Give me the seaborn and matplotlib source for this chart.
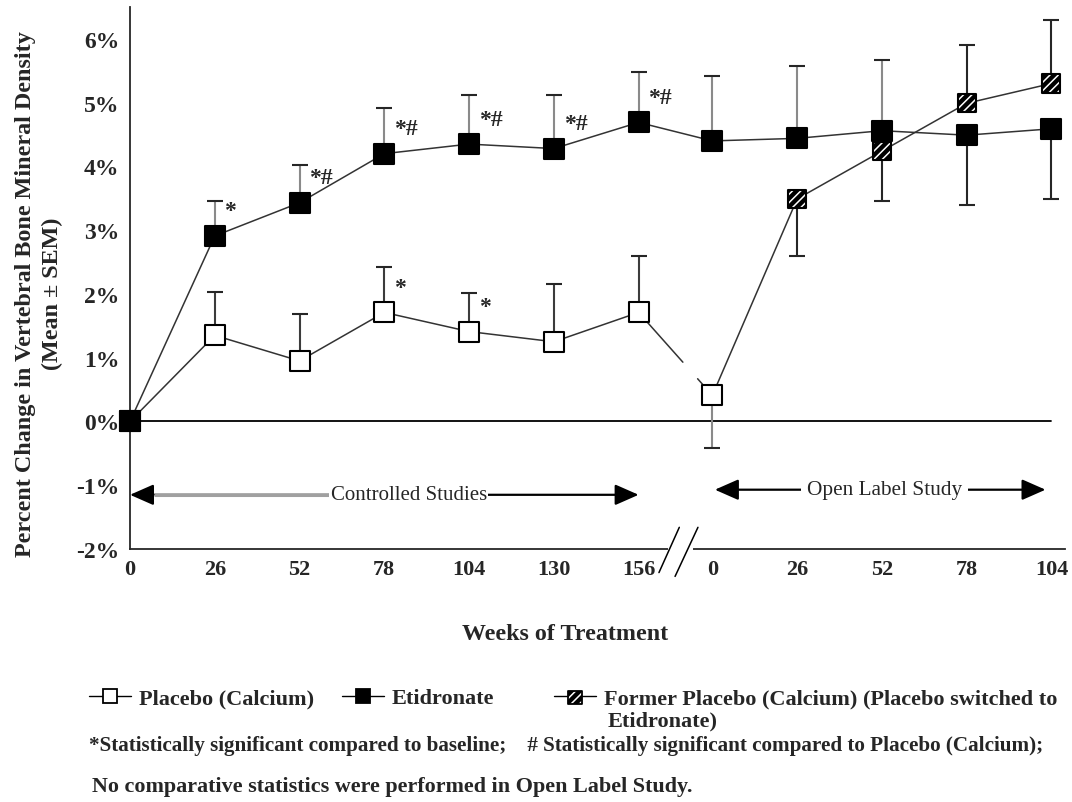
import numpy as np
import pandas as pd
import seaborn as sns
import matplotlib.pyplot as plt
from matplotlib.lines import Line2D
from matplotlib.legend_handler import HandlerTuple

# x axis: weeks in the controlled studies, then weeks in the open label study
ctrl_weeks = [0, 26, 52, 78, 104, 130, 156]
open_weeks = [0, 26, 52, 78, 104]

# controlled studies (percent change, mean and SEM)
placebo_ctrl = [0.0, 1.35, 0.95, 1.71, 1.41, 1.25, 1.71]
placebo_ctrl_up = [0.0, 0.68, 0.73, 0.71, 0.60, 0.91, 0.88]
etid_ctrl = [0.0, 2.91, 3.43, 4.20, 4.35, 4.28, 4.69]
etid_ctrl_up = [0.0, 0.55, 0.59, 0.71, 0.77, 0.84, 0.79]

# open label study
placebo_open = [0.41]
placebo_open_lo = [0.82]
etid_open = [4.40, 4.44, 4.56, 4.49, 4.59]
etid_open_up = [1.02, 1.14, 1.11, 0.0, 0.0]
etid_open_lo = [0.0, 0.0, 1.10, 1.10, 1.10]
former_open = [0.41, 3.49, 4.24, 4.99, 5.30]   # starts from placebo at switch
former_open_up = [0.0, 0.0, 0.0, 0.92, 0.99]
former_open_lo = [0.0, 0.89, 0.0, 0.0, 0.0]

# significance marks
etid_sig = ['', '*', '*#', '*#', '*#', '*#', '*#']
placebo_sig = ['', '', '', '*', '*', '', '']

yticks = [-2, -1, 0, 1, 2, 3, 4, 5, 6]
ytick_labels = ['-2%', '-1%', '0%', '1%', '2%', '3%', '4%', '5%', '6%']

sns.set_style("white")
plt.rcParams['font.family'] = ['Liberation Serif', 'DejaVu Serif']
plt.rcParams['font.weight'] = 'bold'
plt.rcParams['hatch.color'] = 'white'
plt.rcParams['hatch.linewidth'] = 1.1

W, H = 1072, 803
OPEN_START = 6.87   # axis position of open label week 0
XMAX = 11.03

ctrl_pos = np.array(ctrl_weeks) / 26
open_pos = OPEN_START + np.array(open_weeks) / 26

fig = plt.figure(figsize=(W / 100, H / 100), dpi=100)
ax = fig.add_axes([130 / W, 1 - 550 / H, (1065 - 130) / W, (550 - 8) / H])
ax.set_xlim(0, XMAX)
ax.set_ylim(-2, 6.5)

line_kw = dict(color='#333333', linewidth=1.1, ax=ax, legend=False)

# connecting lines
etid_df = pd.DataFrame({'x': np.concatenate([ctrl_pos, open_pos]),
                        'y': etid_ctrl + etid_open})
sns.lineplot(data=etid_df, x='x', y='y', sort=False, **line_kw)
sns.lineplot(x=ctrl_pos, y=placebo_ctrl, sort=False, **line_kw)
sns.lineplot(x=open_pos, y=former_open, sort=False, **line_kw)

# placebo line into the open label study, broken at the axis break
p0 = np.array([ctrl_pos[-1], placebo_ctrl[-1]])
p1 = np.array([open_pos[0], placebo_open[0]])
for a, b in [(0.0, 0.60), (0.80, 1.0)]:
    seg = np.array([p0 + a * (p1 - p0), p0 + b * (p1 - p0)])
    ax.plot(seg[:, 0], seg[:, 1], color='#333333', linewidth=1.1)


def error_bars(x, y, lo, up, bar_color):
    _, caps, bars = ax.errorbar(x, y, yerr=[lo, up], fmt='none',
                                ecolor='#262626', elinewidth=1.5,
                                capsize=5.8, capthick=1.5, zorder=2)
    for b in bars:
        b.set_color(bar_color)


error_bars(ctrl_pos, placebo_ctrl, np.zeros(7), placebo_ctrl_up, '#3c3c3c')
error_bars(ctrl_pos, etid_ctrl, np.zeros(7), etid_ctrl_up, '#8a8a8a')
error_bars(open_pos[:1], placebo_open, placebo_open_lo, [0.0], '#8a8a8a')
error_bars(open_pos, etid_open, np.zeros(5), etid_open_up, '#8a8a8a')
error_bars(open_pos, etid_open, etid_open_lo, np.zeros(5), '#262626')
error_bars(open_pos[1:], former_open[1:], former_open_lo[1:],
           former_open_up[1:], '#262626')

# markers
sc = dict(marker='s', s=14 ** 2, linewidth=1.5, clip_on=False, legend=False,
          ax=ax)
sns.scatterplot(x=ctrl_pos, y=placebo_ctrl, color='white', edgecolor='black',
                zorder=4, **sc)
sns.scatterplot(x=open_pos[:1], y=placebo_open, color='white',
                edgecolor='black', zorder=4, **sc)
sns.scatterplot(x=ctrl_pos, y=etid_ctrl, color='black', edgecolor='black',
                zorder=5, **sc)
sns.scatterplot(x=open_pos, y=etid_open, color='black', edgecolor='black',
                zorder=5, **sc)
sns.scatterplot(x=open_pos[1:], y=former_open[1:], color='black',
                edgecolor='white', hatch='////', zorder=6,
                **{**sc, 's': 13 ** 2, 'linewidth': 0})
sns.scatterplot(x=open_pos[1:], y=former_open[1:], color='none',
                edgecolor='black', zorder=6, **{**sc, 's': 13 ** 2})

# significance marks
for xs, ys, marks in [(ctrl_pos, etid_ctrl, etid_sig),
                      (ctrl_pos, placebo_ctrl, placebo_sig)]:
    for x, y, s in zip(xs, ys, marks):
        if s:
            ax.annotate(s, (x, y), xytext=(7, 18), textcoords='offset points',
                        ha='left', va='center', fontsize=17,
                        fontweight='bold')

# zero line
ax.axhline(0, xmin=0, xmax=open_pos[-1] / XMAX, color='black', linewidth=1.3,
           zorder=1)

# axes
sns.despine(ax=ax)
for side in ['left', 'bottom']:
    ax.spines[side].set_linewidth(1.3)
ax.set_xticks(np.concatenate([ctrl_pos, open_pos]))
ax.set_xticklabels([str(w) for w in ctrl_weeks + open_weeks])
ax.set_yticks(yticks)
ax.set_yticklabels(ytick_labels)
ax.tick_params(axis='both', direction='inout', length=11, width=1.3,
               labelsize=16, pad=2)
ax.tick_params(axis='y', labelsize=17)
ax.set_xlabel('')
ax.set_ylabel('')

# axis break
ax.plot([6.35, 6.64], [-2, -2], color='white', linewidth=3, zorder=6,
        clip_on=False, solid_capstyle='butt')
ax.plot([6.24, 6.48], [-2.37, -1.66], color='black', linewidth=1.1,
        zorder=7, clip_on=False)
ax.plot([6.43, 6.70], [-2.43, -1.66], color='black', linewidth=1.1,
        zorder=7, clip_on=False)

# study period arrows
arrow = dict(arrowstyle='<|-|>,head_length=0.5,head_width=0.22',
             color='black', lw=1.6, mutation_scale=29, shrinkA=0, shrinkB=0)
ax.annotate('', xy=(0, -1.15), xytext=(ctrl_pos[-1], -1.15),
            arrowprops=arrow, annotation_clip=False)
ax.plot([0.3, 2.4], [-1.15, -1.15], color='#a0a0a0', linewidth=2.2, zorder=3)
ax.text(3.29, -1.15, 'Controlled Studies', ha='center', va='center',
        fontsize=15, fontweight='normal',
        bbox=dict(facecolor='white', edgecolor='none', pad=1))
ax.annotate('', xy=(open_pos[0] + 0.03, -1.07),
            xytext=(open_pos[-1] - 0.07, -1.07),
            arrowprops=arrow, annotation_clip=False)
ax.text(8.9, -1.07, 'Open Label Study', ha='center', va='center',
        fontsize=15.3, fontweight='normal',
        bbox=dict(facecolor='white', edgecolor='none', pad=4))

# axis titles
fig.text(39 / W, 1 - 294 / H,
         'Percent Change in Vertebral Bone Mineral Density\n(Mean ± SEM)',
         rotation=90, ha='center', va='center', multialignment='center',
         fontsize=17.4, fontweight='bold', linespacing=1.4)
fig.text(565 / W, 1 - 635 / H, 'Weeks of Treatment', ha='center',
         va='center', fontsize=17.3, fontweight='bold')

# key
h_placebo = Line2D([], [], color='black', lw=1, marker='s', ms=10,
                   mfc='white', mec='black', mew=1.3)
h_etid = Line2D([], [], color='black', lw=1, marker='s', ms=10,
                mfc='black', mec='black', mew=1.3)
h_line = Line2D([], [], color='black', lw=1)
h_hatch = ax.scatter([], [], marker='s', s=100, facecolor='black',
                     edgecolor='white', hatch='////', linewidth=0)
h_edge = ax.scatter([], [], marker='s', s=100, facecolor='none',
                    edgecolor='black', linewidth=1.3)
keys = [(h_placebo, 'Placebo (Calcium)', 89),
        (h_etid, 'Etidronate', 342),
        ((h_line, h_hatch, h_edge),
         'Former Placebo (Calcium) (Placebo switched to', 554)]
for handle, label, xpx in keys:
    fig.legend([handle], [label], loc='center left',
               bbox_to_anchor=(xpx / W, 1 - 699 / H), frameon=False,
               fontsize=16, handlelength=1.9, handletextpad=0.35,
               borderpad=0, borderaxespad=0,
               handler_map={tuple: HandlerTuple(ndivide=1, pad=0)})
fig.text(608 / W, 1 - 721 / H, 'Etidronate)', ha='left', va='center',
         fontsize=16, fontweight='bold')

fig.text(89 / W, 1 - 746 / H,
         '*Statistically significant compared to baseline;    '
         '# Statistically significant compared to Placebo (Calcium);',
         ha='left', va='center', fontsize=15.2, fontweight='bold')
fig.text(92 / W, 1 - 787 / H,
         'No comparative statistics were performed in Open Label Study.',
         ha='left', va='center', fontsize=15.9, fontweight='bold')

fig.savefig('out.png', dpi=100)
